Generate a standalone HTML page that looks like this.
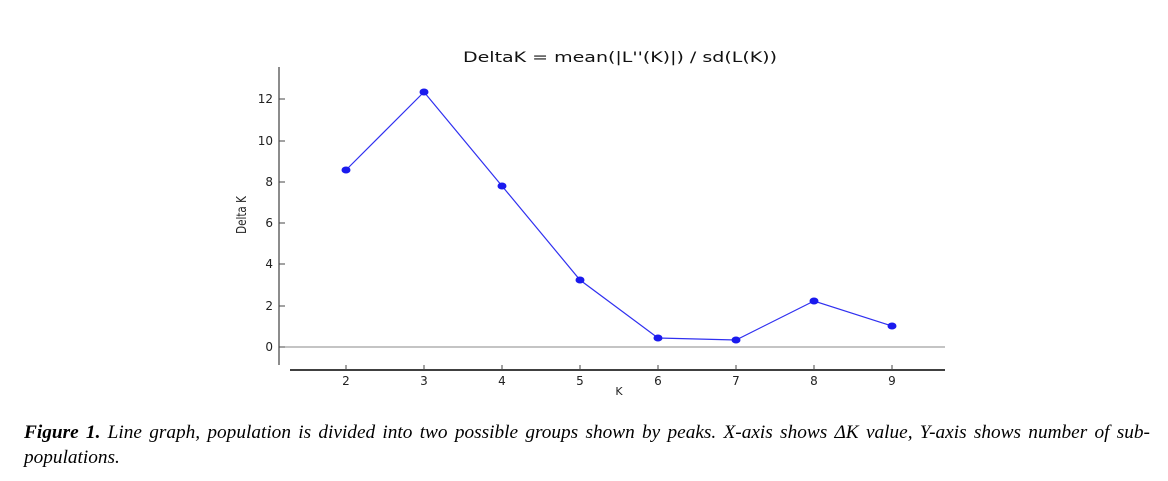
<!DOCTYPE html>
<html><head><meta charset="utf-8"><style>
body{margin:0;background:#fff;width:1168px;height:481px;overflow:hidden}
.cap{position:absolute;left:24px;top:420px;width:1126px;font-family:"Liberation Serif",serif;font-style:italic;font-size:19.3px;line-height:25px;color:#000;white-space:nowrap}
.l1{display:block;text-align:justify;text-align-last:justify;white-space:normal}
</style></head><body>
<svg width="1168" height="481" style="position:absolute;left:0;top:0" font-family="DejaVu Sans, sans-serif">
<text x="463" y="62" font-size="14" textLength="314" lengthAdjust="spacingAndGlyphs" fill="#111">DeltaK = mean(|L''(K)|) / sd(L(K))</text>
<line x1="279" y1="67" x2="279" y2="365" stroke="#666" stroke-width="1.5"/>
<line x1="290" y1="370" x2="945" y2="370" stroke="#000" stroke-width="1.5"/>
<line x1="279" y1="347" x2="945" y2="347" stroke="#888" stroke-width="1"/>
<g font-size="12" fill="#222" text-anchor="end">
<text x="273" y="351">0</text><line x1="279" y1="347" x2="285" y2="347" stroke="#444"/>
<text x="273" y="310">2</text><line x1="279" y1="306" x2="285" y2="306" stroke="#444"/>
<text x="273" y="268">4</text><line x1="279" y1="264" x2="285" y2="264" stroke="#444"/>
<text x="273" y="227">6</text><line x1="279" y1="223" x2="285" y2="223" stroke="#444"/>
<text x="273" y="186">8</text><line x1="279" y1="182" x2="285" y2="182" stroke="#444"/>
<text x="273" y="145">10</text><line x1="279" y1="141" x2="285" y2="141" stroke="#444"/>
<text x="273" y="103">12</text><line x1="279" y1="99" x2="285" y2="99" stroke="#444"/>
</g>
<g font-size="12" fill="#222" text-anchor="middle">
<text x="346" y="385">2</text><text x="424" y="385">3</text><text x="502" y="385">4</text><text x="580" y="385">5</text><text x="658" y="385">6</text><text x="736" y="385">7</text><text x="814" y="385">8</text><text x="892" y="385">9</text>
<text x="619" y="395" font-size="11">K</text>
</g>
<g stroke="#444"><line x1="346" y1="370" x2="346" y2="365"/><line x1="424" y1="370" x2="424" y2="365"/><line x1="502" y1="370" x2="502" y2="365"/><line x1="580" y1="370" x2="580" y2="365"/><line x1="658" y1="370" x2="658" y2="365"/><line x1="736" y1="370" x2="736" y2="365"/><line x1="814" y1="370" x2="814" y2="365"/><line x1="892" y1="370" x2="892" y2="365"/></g>
<text transform="translate(246,215) rotate(-90) scale(0.8,1)" font-size="13" text-anchor="middle" fill="#222">Delta K</text>
<polyline fill="none" stroke="#3030f0" stroke-width="1.2" points="346,170 424,92 502,186 580,280 658,338 736,340 814,301 892,326"/>
<g fill="#1a1aee">
<ellipse cx="346" cy="170" rx="4.5" ry="3.5"/><ellipse cx="424" cy="92" rx="4.5" ry="3.5"/><ellipse cx="502" cy="186" rx="4.5" ry="3.5"/><ellipse cx="580" cy="280" rx="4.5" ry="3.5"/><ellipse cx="658" cy="338" rx="4.5" ry="3.5"/><ellipse cx="736" cy="340" rx="4.5" ry="3.5"/><ellipse cx="814" cy="301" rx="4.5" ry="3.5"/><ellipse cx="892" cy="326" rx="4.5" ry="3.5"/>
</g>
</svg>
<div class="cap"><span class="l1"><b>Figure 1.</b> Line graph, population is divided into two possible groups shown by peaks. X-axis shows ΔK value, Y-axis shows number of sub-</span>populations.</div>
</body></html>
